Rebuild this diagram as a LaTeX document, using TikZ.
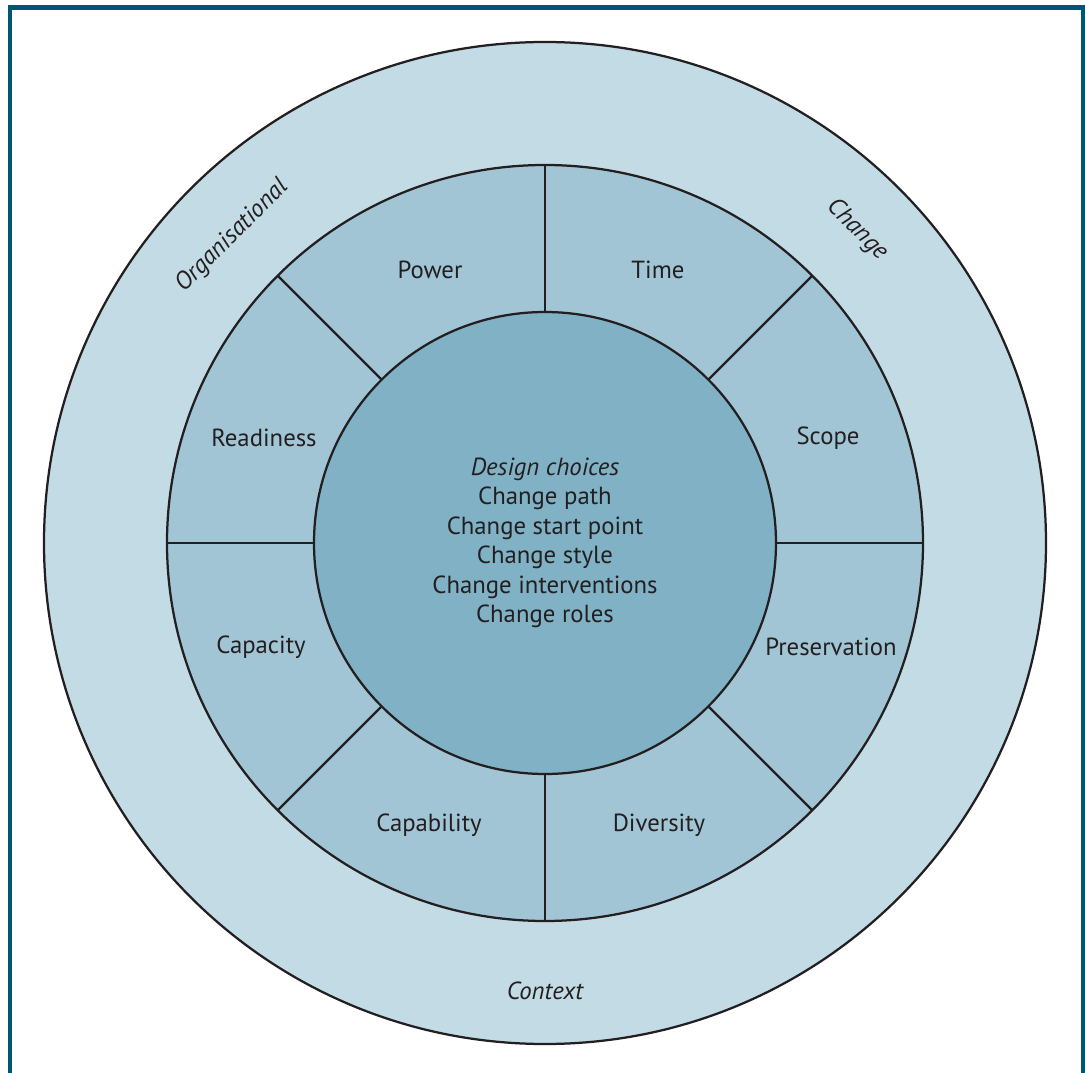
\documentclass[tikz,border=0pt]{standalone}
\usepackage{fontspec}
\setmainfont{PT Sans}
\usepackage{xcolor}
\definecolor{framecol}{HTML}{00566F}
\definecolor{outerring}{HTML}{C3DBE4}
\definecolor{midring}{HTML}{A1C5D4}
\definecolor{innercore}{HTML}{80B1C5}
\definecolor{inkline}{HTML}{231F20}

\begin{document}
\begin{tikzpicture}[x=0.025cm,y=0.025cm,
    ringline/.style={draw=inkline, line width=1.6pt},
    seglabel/.style={font=\fontsize{17.6}{21}\selectfont, text=inkline, inner sep=0pt},
    ringlabel/.style={font=\fontsize{17.6}{21}\selectfont\itshape, text=inkline, inner sep=0pt}]

        \useasboundingbox (-545,-529) rectangle (540,543);

        % Frame
        \draw[framecol, line width=3.5pt] (-535,-545) -- (-535,535.5) -- (538,535.5) -- (538,-545);

        % Rings
        \draw[ringline, fill=outerring] (0,0) circle (501);
        \draw[ringline, fill=midring] (0,0) circle (378);
        \foreach \a in {0,45,...,315}
        {
          \draw[ringline] (\a:230) -- (\a:378);
        }
        \draw[ringline, fill=innercore] (0,0) circle (231);

        % Core
        \node[seglabel, align=center] (core) at (0,0)
          {\textit{Design choices}\\Change path\\Change start point\\Change style\\Change interventions\\Change roles};

        % Sectors
        \foreach \x/\y/\n/\t in {-115/273/power/Power, 113/273/time/Time, 283/105/scope/Scope,
                                 286/-104/preservation/Preservation, 114/-282/diversity/Diversity,
                                 -116/-282/capability/Capability, -284/-104/capacity/Capacity,
                                 -281/105/readiness/Readiness}
        {
          \node[seglabel] (\n) at (\x,\y) {\t};
        }

        % Context ring
        \node[ringlabel, rotate=45] (organisational) at (-313,307) {Organisational};
        \node[ringlabel, rotate=-45] (change) at (312,313) {Change};
        \node[ringlabel] (context) at (0,-448) {Context};
\end{tikzpicture}
\end{document}
